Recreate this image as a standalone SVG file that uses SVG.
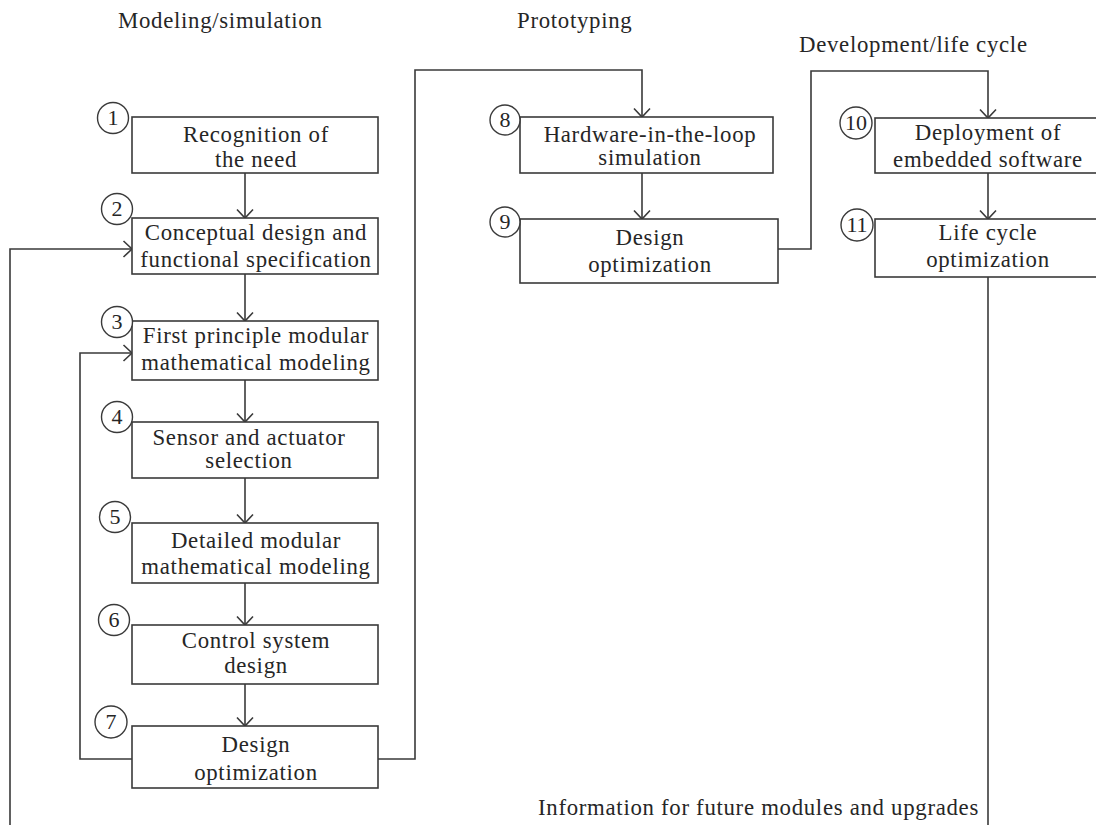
<svg xmlns="http://www.w3.org/2000/svg" width="1096" height="825" viewBox="0 0 1096 825">
<defs>
<style>
.box{fill:#fff;stroke:#3a3a3a;stroke-width:1.6}
.num{fill:#fff;stroke:#3a3a3a;stroke-width:1.4}
.t{font-family:"Liberation Serif","Times New Roman",serif;font-size:22.8px;letter-spacing:0.7px;fill:#262626;text-anchor:middle}
.n{font-family:"Liberation Serif","Times New Roman",serif;font-size:22px;fill:#262626;text-anchor:middle}
.h{font-family:"Liberation Serif","Times New Roman",serif;font-size:22.8px;letter-spacing:0.7px;fill:#262626}
.c{fill:none;stroke:#3a3a3a;stroke-width:1.6}
</style>
<marker id="arr" viewBox="-1 -1 11 18" refX="8.5" refY="8" markerWidth="11" markerHeight="18" markerUnits="userSpaceOnUse" orient="auto" overflow="visible">
<path d="M0,0 L8.5,8 L0,16" fill="none" stroke="#3a3a3a" stroke-width="1.6"/>
</marker>
</defs>
<rect width="1096" height="825" fill="#fff"/>

<text class="h" x="118" y="28">Modeling/simulation</text>
<text class="h" x="517" y="28">Prototyping</text>
<text class="h" x="799" y="52">Development/life cycle</text>

<g id="connectors">
<path class="c" d="M245,173 V218" marker-end="url(#arr)"/>
<path class="c" d="M245,274 V321" marker-end="url(#arr)"/>
<path class="c" d="M245,380 V422" marker-end="url(#arr)"/>
<path class="c" d="M245,478 V523" marker-end="url(#arr)"/>
<path class="c" d="M245,583 V625" marker-end="url(#arr)"/>
<path class="c" d="M245,684 V726" marker-end="url(#arr)"/>
<path class="c" d="M378,759 H415 V70 H642 V117" marker-end="url(#arr)"/>
<path class="c" d="M642,173 V219" marker-end="url(#arr)"/>
<path class="c" d="M778,249 H811 V71 H988 V118" marker-end="url(#arr)"/>
<path class="c" d="M988,173 V219" marker-end="url(#arr)"/>
<path class="c" d="M988,277 V825"/>
<path class="c" d="M132,759 H80 V353 H132" marker-end="url(#arr)"/>
<path class="c" d="M10,825 V249 H132" marker-end="url(#arr)"/>
</g>

<g id="n1">
<rect class="box" x="132" y="117" width="246" height="56"/>
<text class="t" x="256" y="142">Recognition of</text>
<text class="t" x="256" y="167">the need</text>
<circle class="num" cx="113" cy="118" r="15.5"/>
<text class="n" x="113" y="125">1</text>
</g>
<g id="n2">
<rect class="box" x="132" y="218" width="246" height="56"/>
<text class="t" x="256" y="240">Conceptual design and</text>
<text class="t" x="256" y="267">functional specification</text>
<circle class="num" cx="117" cy="209" r="15.5"/>
<text class="n" x="117" y="216">2</text>
</g>
<g id="n3">
<rect class="box" x="132" y="321" width="246" height="59"/>
<text class="t" x="256" y="343">First principle modular</text>
<text class="t" x="256" y="370">mathematical modeling</text>
<circle class="num" cx="117" cy="322" r="15.5"/>
<text class="n" x="117" y="329">3</text>
</g>
<g id="n4">
<rect class="box" x="132" y="422" width="246" height="56"/>
<text class="t" x="249" y="445">Sensor and actuator</text>
<text class="t" x="249" y="468">selection</text>
<circle class="num" cx="117" cy="417" r="15.5"/>
<text class="n" x="117" y="424">4</text>
</g>
<g id="n5">
<rect class="box" x="132" y="523" width="246" height="60"/>
<text class="t" x="256" y="548">Detailed modular</text>
<text class="t" x="256" y="574">mathematical modeling</text>
<circle class="num" cx="115" cy="517" r="15.5"/>
<text class="n" x="115" y="524">5</text>
</g>
<g id="n6">
<rect class="box" x="132" y="625" width="246" height="59"/>
<text class="t" x="256" y="648">Control system</text>
<text class="t" x="256" y="673">design</text>
<circle class="num" cx="114" cy="620" r="15.5"/>
<text class="n" x="114" y="627">6</text>
</g>
<g id="n7">
<rect class="box" x="132" y="726" width="246" height="62"/>
<text class="t" x="256" y="752">Design</text>
<text class="t" x="256" y="780">optimization</text>
<circle class="num" cx="111" cy="722" r="16"/>
<text class="n" x="111" y="729">7</text>
</g>
<g id="n8">
<rect class="box" x="520" y="117" width="253" height="56"/>
<text class="t" x="650" y="142">Hardware-in-the-loop</text>
<text class="t" x="650" y="165">simulation</text>
<circle class="num" cx="505" cy="120" r="15"/>
<text class="n" x="505" y="127">8</text>
</g>
<g id="n9">
<rect class="box" x="520" y="219" width="258" height="64"/>
<text class="t" x="650" y="245">Design</text>
<text class="t" x="650" y="272">optimization</text>
<circle class="num" cx="505" cy="222" r="15"/>
<text class="n" x="505" y="229">9</text>
</g>
<g id="n10">
<rect class="box" x="875" y="118" width="230" height="55"/>
<text class="t" x="988" y="140">Deployment of</text>
<text class="t" x="988" y="167">embedded software</text>
<circle class="num" cx="856" cy="123" r="16"/>
<text class="n" x="856" y="130">10</text>
</g>
<g id="n11">
<rect class="box" x="875" y="219" width="230" height="58"/>
<text class="t" x="988" y="240">Life cycle</text>
<text class="t" x="988" y="267">optimization</text>
<circle class="num" cx="857" cy="225" r="16"/>
<text class="n" x="857" y="232">11</text>
</g>

<text class="h" x="979" y="815" text-anchor="end">Information for future modules and upgrades</text>
</svg>
